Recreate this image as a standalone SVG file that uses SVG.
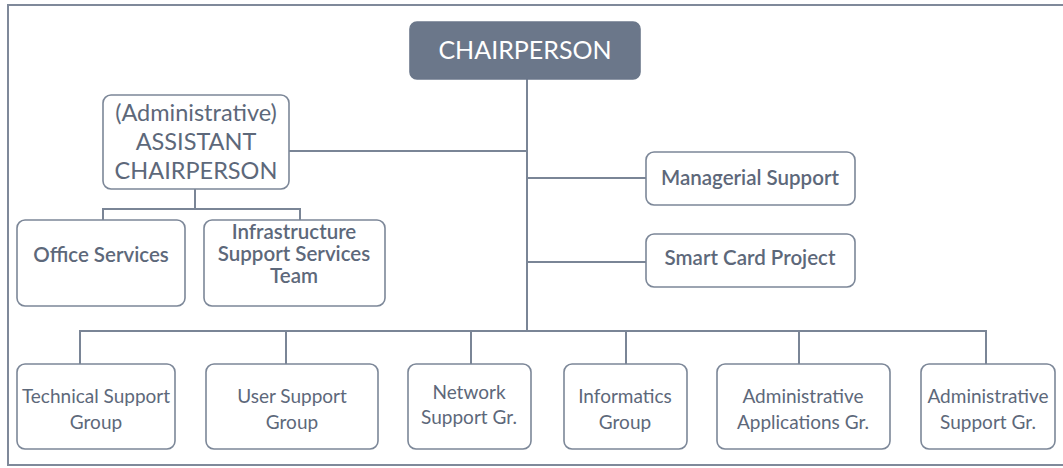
<svg xmlns="http://www.w3.org/2000/svg" width="1063" height="468" viewBox="0 0 1063 468">
<style>
.box{fill:#ffffff;stroke:#7c8798;stroke-width:1.6}
.top{fill:#6b778a;stroke:#6b778a;stroke-width:1.6}
.t{font-family:Lato,"Liberation Sans",sans-serif;fill:#5d687a;text-anchor:middle}
.m{font-size:20.5px;font-weight:600}
.s{font-size:19px}
.big{font-size:23.5px}
.wt{fill:#ffffff;font-size:25px}
.c{fill:none;stroke:#7a8596;stroke-width:2}
</style>
<rect x="0" y="0" width="1063" height="468" fill="#ffffff"/>
<rect x="8" y="5" width="1070" height="460" fill="none" stroke="#7f899a" stroke-width="2"/>
<g id="connectors">
<path class="c" d="M527 79V331"/>
<path class="c" d="M289 151H527"/>
<path class="c" d="M527 178H646"/>
<path class="c" d="M527 262H646"/>
<path class="c" d="M195 189V209M103 220V209H300V220"/>
<path class="c" d="M80 364V331H986V364M286 331V364M471 331V364M626 331V364M799 331V364"/>
</g>
<g id="chairperson"><rect class="top" x="410" y="22" width="230" height="57" rx="7"/><text class="t wt" x="525" y="59">CHAIRPERSON</text></g>
<g id="assistant"><rect class="box" x="103" y="95" width="186" height="94" rx="8"/>
<text class="t big" x="196" y="121">(Administrative)</text>
<text class="t big" x="196" y="150">ASSISTANT</text>
<text class="t big" x="196" y="179">CHAIRPERSON</text></g>
<g id="office"><rect class="box" x="17" y="220" width="168" height="86" rx="8"/><text class="t m" x="101" y="262">Office Services</text></g>
<g id="infra"><rect class="box" x="204" y="220" width="181" height="86" rx="8"/>
<text class="t m" x="294" y="239">Infrastructure</text>
<text class="t m" x="294" y="261">Support Services</text>
<text class="t m" x="294" y="283">Team</text></g>
<g id="managerial"><rect class="box" x="646" y="152" width="209" height="53" rx="8"/><text class="t m" x="750" y="185">Managerial Support</text></g>
<g id="smartcard"><rect class="box" x="646" y="234" width="209" height="53" rx="8"/><text class="t m" x="750" y="265">Smart Card Project</text></g>
<g id="technical"><rect class="box" x="17" y="364" width="158" height="85" rx="8"/><text class="t s" x="96" y="403">Technical Support</text><text class="t s" x="96" y="429">Group</text></g>
<g id="user"><rect class="box" x="206" y="364" width="172" height="85" rx="8"/><text class="t s" x="292" y="403">User Support</text><text class="t s" x="292" y="429">Group</text></g>
<g id="network"><rect class="box" x="408" y="364" width="123" height="85" rx="8"/><text class="t s" x="469" y="399">Network</text><text class="t s" x="469" y="424">Support Gr.</text></g>
<g id="informatics"><rect class="box" x="564" y="364" width="123" height="85" rx="8"/><text class="t s" x="625" y="403">Informatics</text><text class="t s" x="625" y="429">Group</text></g>
<g id="adminapps"><rect class="box" x="717" y="364" width="173" height="85" rx="8"/><text class="t s" x="803" y="403">Administrative</text><text class="t s" x="803" y="429">Applications Gr.</text></g>
<g id="adminsupport"><rect class="box" x="921" y="364" width="134" height="85" rx="8"/><text class="t s" x="988" y="403">Administrative</text><text class="t s" x="988" y="429">Support Gr.</text></g>
</svg>
